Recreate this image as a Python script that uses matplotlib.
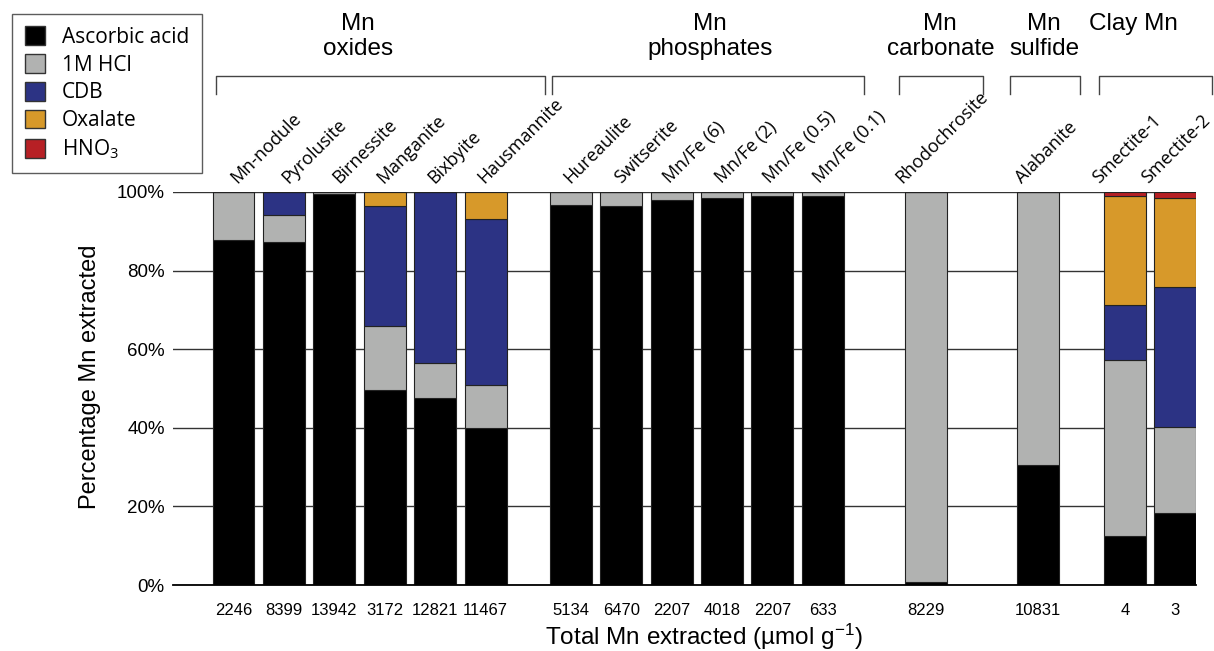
import matplotlib
matplotlib.use("Agg")
import matplotlib.pyplot as plt
from matplotlib.patches import Patch
import numpy as np

plt.rcParams['mathtext.fontset'] = 'custom'
plt.rcParams['mathtext.rm'] = 'Liberation Sans'
plt.rcParams['mathtext.default'] = 'regular'

# ---------------- data ----------------
categories = ['Mn-nodule', 'Pyrolusite', 'Birnessite', 'Manganite', 'Bixbyite', 'Hausmannite',
              'Hureaulite', 'Switserite', 'Mn/Fe (6)', 'Mn/Fe (2)', 'Mn/Fe (0.5)', 'Mn/Fe (0.1)',
              'Rhodochrosite', 'Alabanite', 'Smectite-1', 'Smectite-2']
ascorbic = [87.7, 87.3, 99.4, 49.6, 47.6, 39.9, 96.6, 96.4, 97.9, 98.6, 99.0, 99.1, 0.7, 30.6, 12.5, 18.3]
hcl      = [12.3, 6.8, 0.6, 16.2, 9.0, 11.1, 3.4, 3.6, 2.1, 1.4, 1.0, 0.9, 99.3, 69.4, 44.8, 21.8]
cdb      = [0, 5.9, 0, 30.7, 43.4, 42.1, 0, 0, 0, 0, 0, 0, 0, 0, 14.0, 35.8]
oxalate  = [0, 0, 0, 3.5, 0, 6.9, 0, 0, 0, 0, 0, 0, 0, 0, 27.8, 22.6]
hno3     = [0, 0, 0, 0, 0, 0, 0, 0, 0, 0, 0, 0, 0, 0, 0.9, 1.5]
totals   = ['2246', '8399', '13942', '3172', '12821', '11467', '5134', '6470', '2207', '4018',
            '2207', '633', '8229', '10831', '4', '3']
series_names = ['Ascorbic acid', '1M HCl', 'CDB', 'Oxalate', 'HNO$_3$']
group_names = ['Mn\noxides', 'Mn\nphosphates', 'Mn\ncarbonate', 'Mn\nsulfide', 'Clay Mn']
group_sizes = [6, 6, 1, 1, 2]

# ---------------- layout / style ----------------
colors = ['#000000', '#b1b2b1', '#2c3384', '#d7992a', '#b72025']
steps = [1, 1, 1, 1, 1, 1.69, 1, 1, 1, 1, 1, 2.04, 2.23, 1.72, 0.99]
x = np.concatenate([[0], np.cumsum(steps)])
width = 0.833
label_dx = [0.08, 0.08, 0.09, -0.02, -0.02, -0.02, -0.02, 0.0, -0.03, 0.0, -0.06, -0.06,
            -0.47, -0.32, -0.52, -0.52]
bracket_pads = [(0.07, 0.76), (0.05, 0.39), (-0.12, 0.73), (-0.14, 0.41), (-0.10, 0.32)]
header_x = [2.47, 9.45, 14.02, 16.08, 17.85]

W, H = 1214, 651
fig = plt.figure(figsize=(W / 100, H / 100), dpi=100)
ax = fig.add_axes([173 / W, (H - 585) / H, (1196 - 173) / W, (585 - 192) / H])

series = [ascorbic, hcl, cdb, oxalate, hno3]
bottom = np.zeros(len(categories))
for vals, col in zip(series, colors):
    vals = np.array(vals, dtype=float)
    ax.bar(x, vals, width=width, bottom=bottom, color=col, edgecolor='#222222',
           linewidth=0.8, zorder=3)
    bottom += vals

ax.set_xlim(-1.20, x[-1] + width / 2 + 0.005)
ax.set_ylim(0, 100)
ax.set_yticks([0, 20, 40, 60, 80, 100])
ax.set_yticklabels(['0%', '20%', '40%', '60%', '80%', '100%'], fontsize=13.5,
                   family='Liberation Sans')
ax.tick_params(axis='y', length=0, pad=6)
ax.set_xticks([])
ax.yaxis.grid(True, color='#333333', linewidth=1.0, zorder=0)
ax.set_axisbelow(True)
for s in ['left', 'right', 'top']:
    ax.spines[s].set_visible(False)
ax.spines['bottom'].set_linewidth(1.3)
ax.spines['bottom'].set_zorder(4)

# category labels (rotated) and totals
for xi, name, dx, tot in zip(x, categories, label_dx, totals):
    ax.text(xi + dx, 102.0, name, rotation=45, rotation_mode='anchor', ha='left',
            va='baseline', fontsize=13, family='Open Sans', clip_on=False)
    ax.text(xi, -6.4, tot, ha='center', va='center', fontsize=12,
            family='Liberation Sans', clip_on=False)

# group brackets
trans = ax.get_xaxis_transform()
y_top = (585 - 76) / 393
y_bot = (585 - 94) / 393
start = 0
for gname, n, (lp, rp), hx in zip(group_names, group_sizes, bracket_pads, header_x):
    left = x[start] - width / 2 + lp
    right = x[start + n - 1] + width / 2 + rp
    ax.plot([left, left, right, right], [y_bot, y_top, y_top, y_bot], color='#444444',
            linewidth=1.0, transform=trans, clip_on=False)
    ax.text(hx, (585 - 13) / 393, gname, transform=trans, ha='center', va='top',
            fontsize=17.5, family='Liberation Sans', linespacing=1.15)
    start += n

fig.text(90 / W, 1 - 377 / H, 'Percentage Mn extracted', rotation=90, ha='center', va='center',
         fontsize=17, family='Liberation Sans')
fig.text(704 / W, 1 - 637 / H, 'Total Mn extracted (µmol g$^{-1}$)', ha='center', va='center',
         fontsize=17.5, family='Liberation Sans')

handles = [Patch(facecolor=c, edgecolor='#333333', linewidth=1.0) for c in colors]
leg = fig.legend(handles, series_names, loc='upper left',
                 bbox_to_anchor=(12 / W, 1 - 14 / H), bbox_transform=fig.transFigure,
                 prop={'family': 'Open Sans', 'size': 15}, frameon=True, fancybox=False,
                 edgecolor='#333333', handlelength=1.0, handleheight=1.0,
                 handletextpad=0.8, labelspacing=0.3, borderpad=0.6, borderaxespad=0)
leg.get_frame().set_linewidth(1.0)

fig.savefig('out.png', dpi=100)
